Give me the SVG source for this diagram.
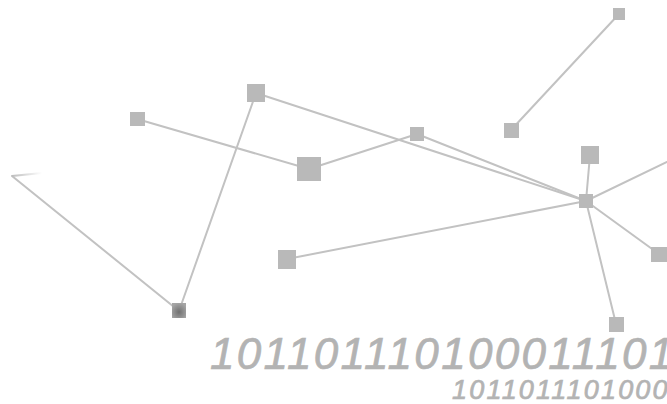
<svg xmlns="http://www.w3.org/2000/svg" width="667" height="404" viewBox="0 0 667 404">
  <style>
    .edge { stroke: #c2c2c2; stroke-width: 2; fill: none; stroke-linecap: round; }
    .node rect { fill: #b9b9b9; }
    .bin { font-family: "Liberation Sans", Arial, sans-serif; font-style: italic; fill: #b3b3b3; stroke: #b3b3b3; stroke-width: 0.7; }
  </style>
  <defs>
    <radialGradient id="dark" cx="0.5" cy="0.6" r="0.6">
      <stop offset="0" stop-color="#707070"/>
      <stop offset="1" stop-color="#a5a5a5"/>
    </radialGradient>
    <linearGradient id="fadeTick" x1="0" y1="0" x2="1" y2="0">
      <stop offset="0" stop-color="#bdbdbd"/>
      <stop offset="1" stop-color="#ffffff"/>
    </linearGradient>
  </defs>
  <rect width="667" height="404" fill="#ffffff"/>

  <g id="connectors">
    <line class="edge" x1="137" y1="119" x2="309" y2="169"/>
    <line class="edge" x1="309" y1="169" x2="417" y2="134"/>
    <line class="edge" x1="256" y1="93" x2="586" y2="201"/>
    <line class="edge" x1="417" y1="134" x2="586" y2="201"/>
    <line class="edge" x1="256" y1="93" x2="179" y2="311"/>
    <line class="edge" x1="12" y1="176" x2="179" y2="311"/>
    <line x1="12" y1="176" x2="42" y2="173" stroke="url(#fadeTick)" stroke-width="2"/>
    <line class="edge" x1="619" y1="14" x2="511" y2="130"/>
    <line class="edge" x1="590" y1="155" x2="586" y2="201"/>
    <line class="edge" x1="586" y1="201" x2="667" y2="162"/>
    <line class="edge" x1="586" y1="201" x2="659" y2="254"/>
    <line class="edge" x1="586" y1="201" x2="616" y2="324"/>
    <line class="edge" x1="287" y1="259" x2="586" y2="201"/>
  </g>

  <g id="nA" class="node"><rect x="130" y="112" width="15" height="14"/></g>
  <g id="nB" class="node"><rect x="247" y="84" width="18" height="18"/></g>
  <g id="nC" class="node"><rect x="297" y="157" width="24" height="24"/></g>
  <g id="nD" class="node"><rect x="410" y="127" width="14" height="14"/></g>
  <g id="nE" class="node"><rect x="613" y="8" width="12" height="12"/></g>
  <g id="nF" class="node"><rect x="504" y="123" width="15" height="15"/></g>
  <g id="nG" class="node"><rect x="581" y="146" width="18" height="18"/></g>
  <g id="nH" class="node"><rect x="579" y="194" width="14" height="14"/></g>
  <g id="nI" class="node"><rect x="651" y="247" width="16" height="15"/></g>
  <g id="nJ" class="node"><rect x="609" y="317" width="15" height="15"/></g>
  <g id="nK" class="node"><rect x="278" y="250" width="18" height="19"/></g>
  <g id="nL" class="node"><rect x="172" y="303" width="14" height="15" style="fill:url(#dark)"/></g>

  <g id="labels">
    <text class="bin" x="210" y="369" font-size="44" letter-spacing="2.3">101101110100011101</text>
    <text class="bin" x="452" y="399" font-size="27" letter-spacing="2.2">1011011101000</text>
  </g>
</svg>
